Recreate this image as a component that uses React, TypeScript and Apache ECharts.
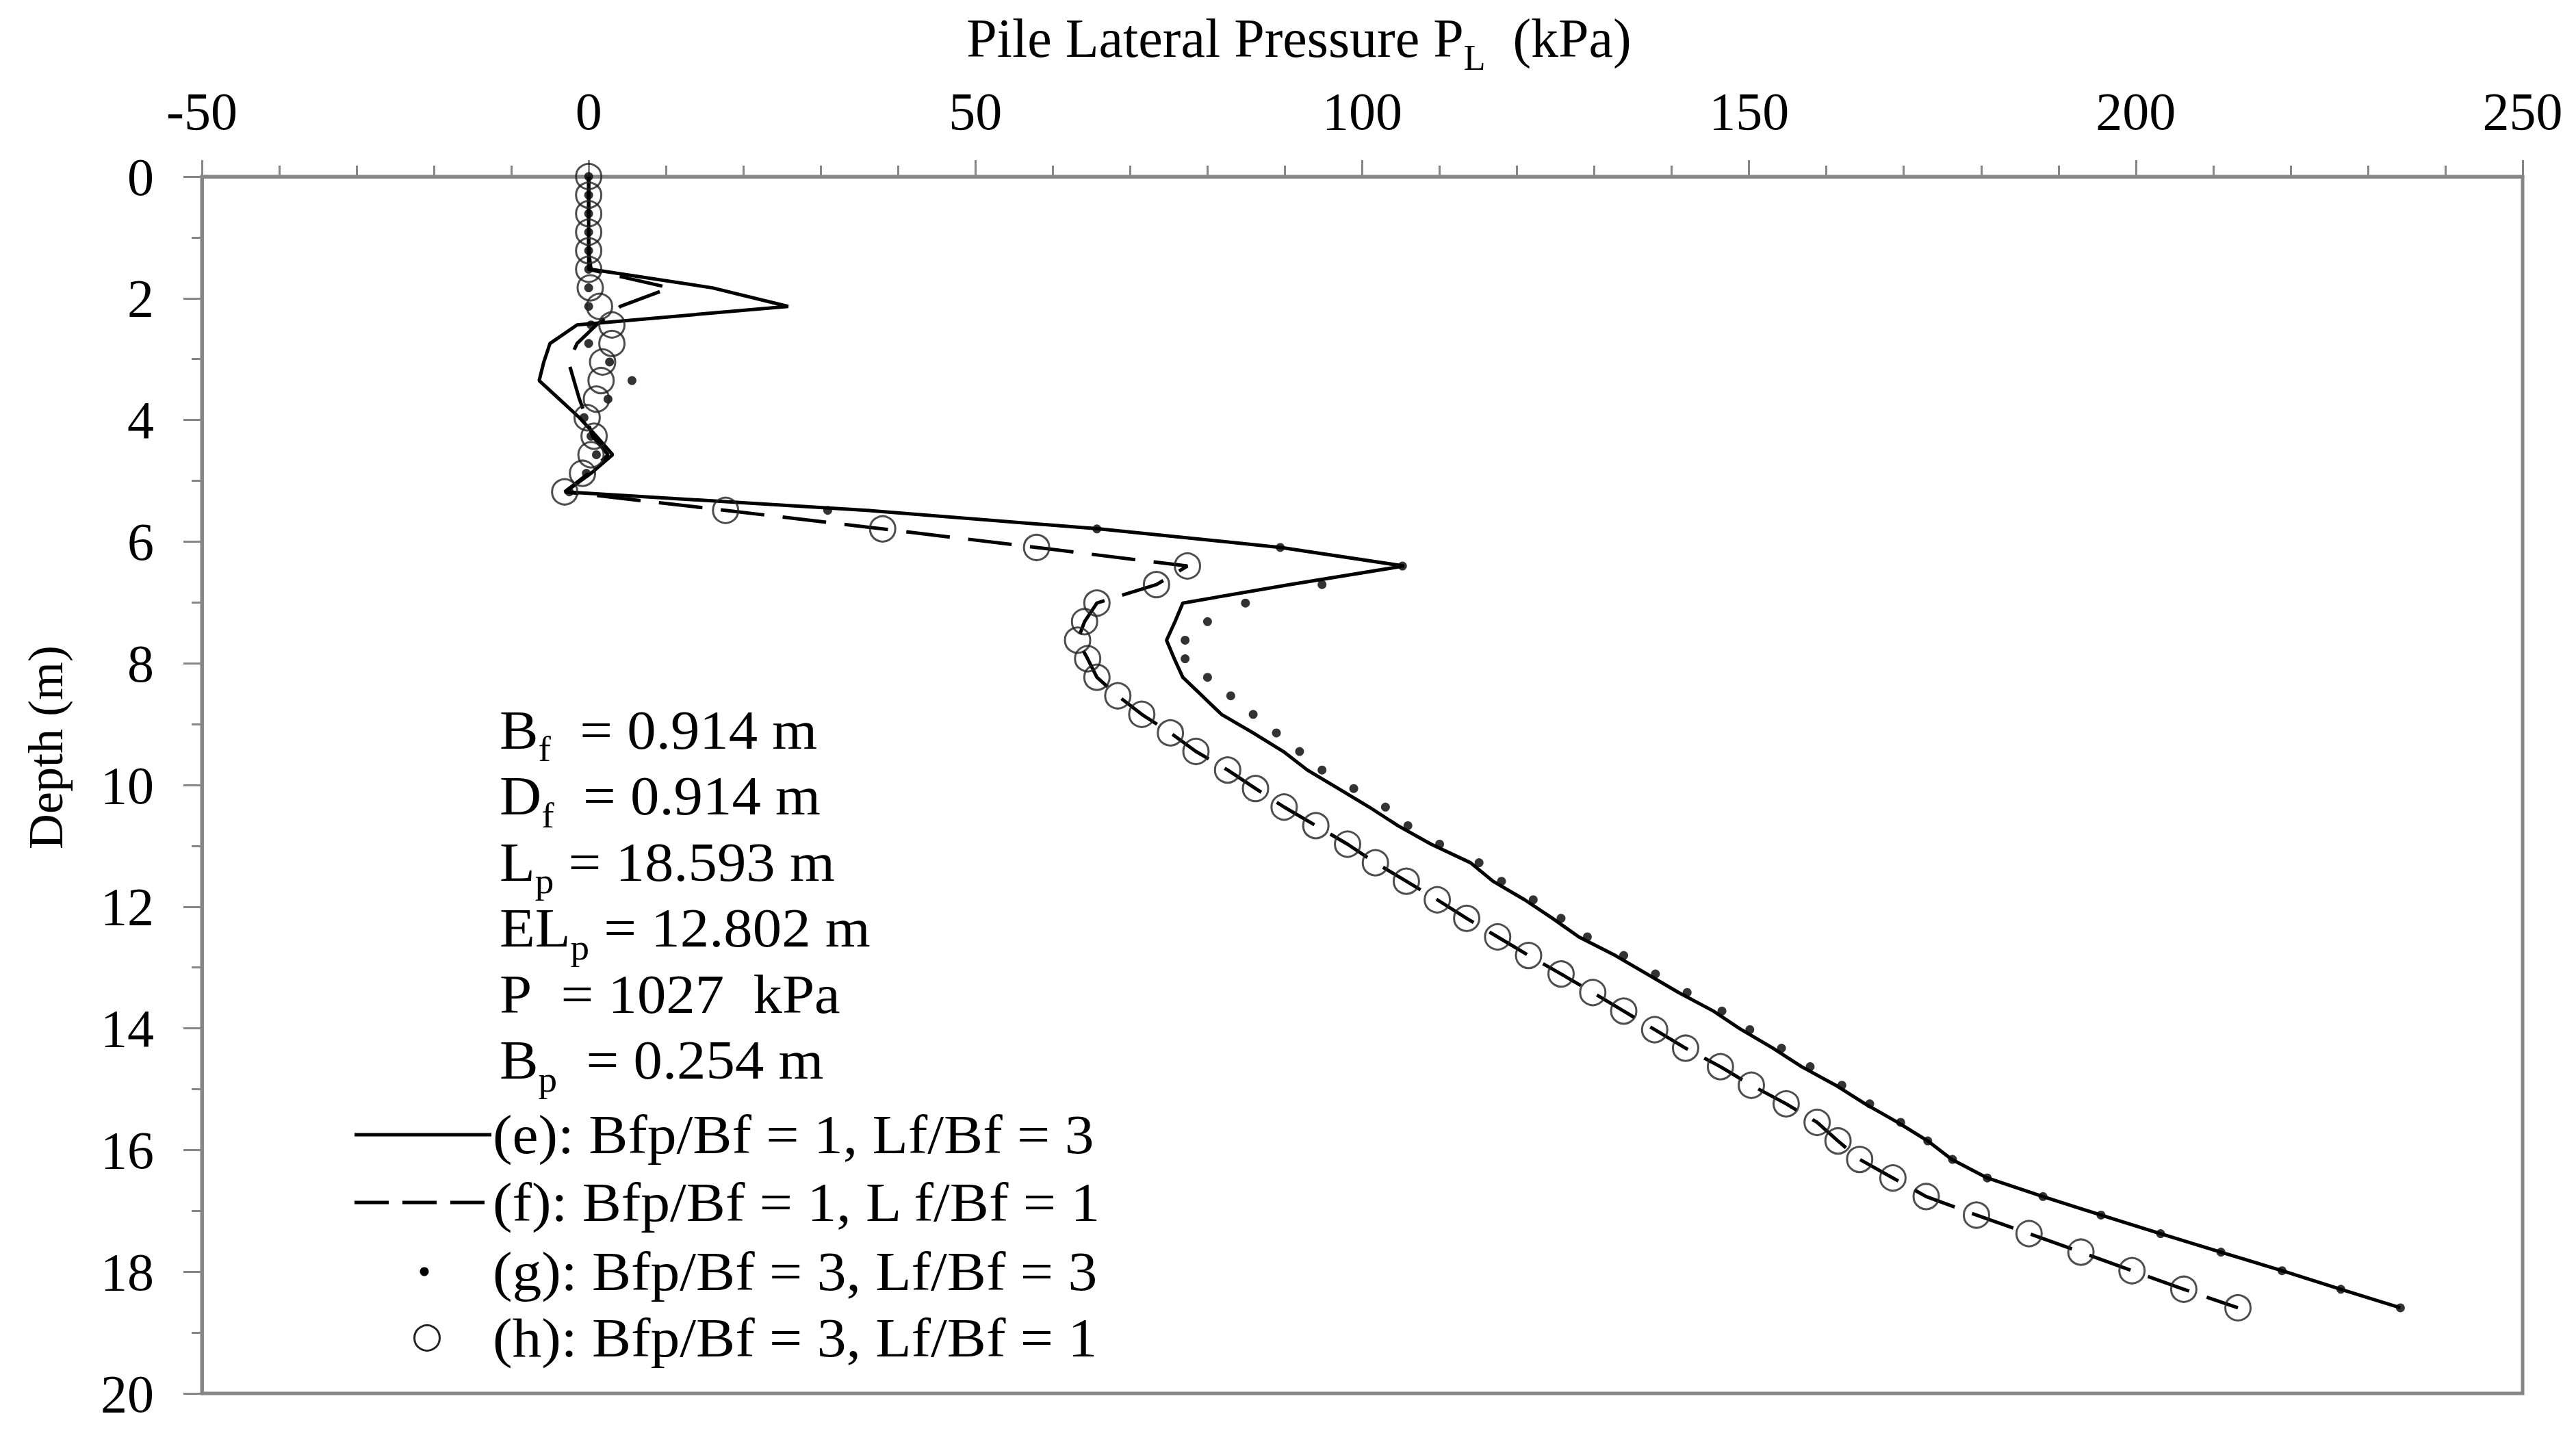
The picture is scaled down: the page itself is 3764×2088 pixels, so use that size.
import React, { useEffect, useRef } from "react";
import * as echarts from "echarts";

// Depth of each computation node along the pile (m), every 0.3048 m (1 ft)
const depths = [
  0, 0.305, 0.61, 0.914, 1.219, 1.524, 1.829, 2.134, 2.438, 2.743,
  3.048, 3.353, 3.658, 3.962, 4.267, 4.572, 4.877, 5.182, 5.486, 5.791,
  6.096, 6.401, 6.706, 7.01, 7.315, 7.62, 7.925, 8.23, 8.534, 8.839,
  9.144, 9.449, 9.754, 10.058, 10.363, 10.668, 10.973, 11.278, 11.582, 11.887,
  12.192, 12.497, 12.802, 13.106, 13.411, 13.716, 14.021, 14.326, 14.63, 14.935,
  15.24, 15.545, 15.85, 16.154, 16.459, 16.764, 17.069, 17.374, 17.678, 17.983,
  18.288, 18.593,
];

// (e): Bfp/Bf = 1, Lf/Bf = 3  (solid line)
const seriesE = [
  0, 0, 0, 0, 0, 0.3, 16, 25.8, -1.5, -5,
  -5.8, -6.4, -3.8, -1.2, 1.0, 3.1, 0.3, -3, 36, 66,
  89.5, 105.4, 90.6, 76.8, 75.8, 74.7, 75.7, 76.8, 79.3, 81.8,
  85.9, 89.8, 92.9, 96.9, 100.9, 104.6, 108.9, 114.0, 116.9, 121.0,
  124.6, 128.0, 132.7, 136.8, 140.9, 145.4, 149.0, 153.1, 156.8, 161.2,
  165.0, 169.2, 173.1, 176.2, 180.8, 188.0, 195.5, 203.2, 211.0, 218.9,
  226.5, 234.2,
];

// (f): Bfp/Bf = 1, Lf/Bf = 1  (dashed line)
const seriesF = [
  0, 0, 0, 0, 0, 0, 10.5, 4.1, 1.0, -1.5,
  -2.6, -1.9, -1.2, -0.3, 0.5, 2.5, 0, -3.1, 17.7, 38.0,
  57.9, 77.4, 73.4, 65.7, 64.1, 63.2, 64.5, 65.7, 68.4, 71.5,
  75.2, 78.5, 82.6, 86.2, 89.9, 94.0, 98.1, 101.7, 105.7, 109.7,
  113.5, 117.5, 121.5, 125.7, 129.8, 133.8, 137.8, 141.8, 146.3, 150.3,
  154.8, 158.8, 161.5, 164.3, 168.6, 172.9, 179.4, 186.2, 192.9, 199.5,
  206.2, 213.2,
];

// (g): Bfp/Bf = 3, Lf/Bf = 3  (small filled dots)
const seriesG = [
  0, 0, 0, 0, 0, 0, 0, 0, 0.3, 0,
  2.7, 5.6, 2.5, -0.6, 0.3, 1.0, -0.3, -2.5, 30.9, 65.7,
  89.4, 105.2, 94.8, 84.9, 80.0, 77.1, 77.1, 80.0, 83.0, 85.9,
  88.9, 91.9, 94.8, 98.9, 103.0, 105.9, 110.0, 115.1, 118.0, 122.1,
  125.7, 129.1, 133.8, 137.9, 142.0, 146.5, 150.1, 154.2, 157.9, 162.0,
  165.6, 169.6, 173.1, 176.3, 180.8, 188.0, 195.5, 203.2, 211.0, 218.9,
  226.5, 234.2,
];

// (h): Bfp/Bf = 3, Lf/Bf = 1  (open circles)
const seriesH = [
  0, 0, 0, 0, 0, 0, 0.2, 1.4, 3.0, 3.0,
  1.8, 1.6, 1.0, -0.2, 0.7, 0.3, -0.8, -3.1, 17.7, 38.0,
  57.9, 77.4, 73.4, 65.7, 64.1, 63.2, 64.5, 65.7, 68.4, 71.5,
  75.2, 78.5, 82.6, 86.2, 89.9, 94.0, 98.1, 101.7, 105.7, 109.7,
  113.5, 117.5, 121.5, 125.7, 129.8, 133.8, 137.8, 141.8, 146.3, 150.3,
  154.8, 158.8, 161.5, 164.3, 168.6, 172.9, 179.4, 186.2, 192.9, 199.5,
  206.2, 213.2,
];

const seriesNames = [
  "(e): Bfp/Bf = 1, Lf/Bf = 3",
  "(f): Bfp/Bf = 1, L f/Bf = 1",
  "(g): Bfp/Bf = 3, Lf/Bf = 3",
  "(h): Bfp/Bf = 3, Lf/Bf = 1",
];

// Parameter block: [main, subscript, rest]
const paramLines: [string, string, string][] = [
  ["B", "f", "\u00a0\u00a0= 0.914 m"],
  ["D", "f", "\u00a0\u00a0= 0.914 m"],
  ["L", "p", "\u00a0= 18.593 m"],
  ["EL", "p", "\u00a0= 12.802 m"],
  ["P", "", "\u00a0\u00a0= 1027\u00a0\u00a0kPa"],
  ["B", "p", "\u00a0\u00a0= 0.254 m"],
];

const xMin = -50;
const xMax = 250;
const xStep = 50;
const yMin = 0;
const yMax = 20;
const yStep = 2;

const FONT = "'Liberation Serif', 'Times New Roman', serif";
const AXIS_GRAY = "#868686";

function pairs(values: number[]) {
  return values.map((v, i) => [v, depths[i]]);
}

export default function App() {
  const ref = useRef<HTMLDivElement>(null);

  useEffect(() => {
    if (!ref.current) return;
    const chart = echarts.init(ref.current, undefined, { renderer: "svg" });

    const rich = {
      m: { fontSize: 80, fontFamily: FONT, fill: "#000" },
      s: { fontSize: 52, fontFamily: FONT, fill: "#000", padding: [56, 0, 0, 0] },
    };

    const paramGraphics = paramLines.map((p, i) => ({
      type: "text",
      x: 730,
      y: 1067 + i * 96.5,
      scaleX: 1.06,
      style: {
        text: `{m|${p[0]}}` + (p[1] ? `{s|${p[1]}}` : "") + `{m|${p[2]}}`,
        rich,
        align: "left",
        verticalAlign: "middle",
      },
    }));

    const legendY = [1658, 1757, 1858, 1955];
    const legendGraphics: any[] = [
      {
        type: "line",
        shape: { x1: 518, y1: legendY[0], x2: 718, y2: legendY[0] },
        style: { stroke: "#000", lineWidth: 5 },
      },
      {
        type: "line",
        shape: { x1: 518, y1: legendY[1], x2: 718, y2: legendY[1] },
        style: { stroke: "#000", lineWidth: 5, lineDash: [50, 20] },
      },
      {
        type: "circle",
        shape: { cx: 620, cy: legendY[2], r: 6.5 },
        style: { fill: "#000" },
      },
      {
        type: "circle",
        shape: { cx: 624, cy: legendY[3], r: 18.5 },
        style: { fill: "none", stroke: "#222", lineWidth: 3 },
      },
      ...seriesNames.map((n, i) => ({
        type: "text",
        x: 720,
        y: legendY[i],
        scaleX: 1.07,
        style: {
          text: n,
          fontSize: 80,
          fontFamily: FONT,
          fill: "#000",
          align: "left",
          verticalAlign: "middle",
        },
      })),
    ];

    chart.setOption({
      animation: false,
      backgroundColor: "#fff",
      grid: {
        left: 295,
        top: 258,
        width: 3391,
        height: 1778,
        show: true,
        borderColor: AXIS_GRAY,
        borderWidth: 5,
        backgroundColor: "transparent",
      },
      xAxis: {
        type: "value",
        position: "top",
        min: xMin,
        max: xMax,
        interval: xStep,
        axisLine: { show: true, onZero: false, lineStyle: { color: AXIS_GRAY, width: 5 } },
        axisTick: { show: true, length: 24, lineStyle: { color: AXIS_GRAY, width: 3 } },
        minorTick: { show: true, splitNumber: 5, length: 16, lineStyle: { color: AXIS_GRAY, width: 3 } },
        splitLine: { show: false },
        axisLabel: { fontSize: 78, fontFamily: FONT, color: "#000", margin: 57 },
      },
      yAxis: {
        type: "value",
        inverse: true,
        min: yMin,
        max: yMax,
        interval: yStep,
        axisLine: { show: true, onZero: false, lineStyle: { color: AXIS_GRAY, width: 5 } },
        axisTick: { show: true, length: 27, lineStyle: { color: AXIS_GRAY, width: 3 } },
        minorTick: { show: true, splitNumber: 2, length: 15, lineStyle: { color: AXIS_GRAY, width: 3 } },
        splitLine: { show: false },
        axisLabel: { fontSize: 78, fontFamily: FONT, color: "#000", margin: 70 },
      },
      series: [
        {
          name: seriesNames[0],
          type: "line",
          data: pairs(seriesE),
          symbol: "none",
          lineStyle: { color: "#000", width: 5 },
          z: 3,
        },
        {
          name: seriesNames[1],
          type: "line",
          data: pairs(seriesF),
          symbol: "none",
          lineStyle: { color: "#000", width: 5, type: [64, 27] },
          z: 3,
        },
        {
          name: seriesNames[2],
          type: "scatter",
          data: pairs(seriesG),
          symbol: "circle",
          symbolSize: 13,
          itemStyle: { color: "#000" },
          z: 4,
        },
        {
          name: seriesNames[3],
          type: "scatter",
          data: pairs(seriesH),
          symbol: "circle",
          symbolSize: 37,
          itemStyle: { color: "rgba(0,0,0,0)", borderColor: "#222", borderWidth: 3 },
          z: 5,
        },
      ],
      graphic: [
        {
          type: "text",
          x: 1898,
          y: 56,
          style: {
            text: "{m|Pile Lateral Pressure P}{s|L}{m|\u00a0\u00a0(kPa)}",
            rich,
            align: "center",
            verticalAlign: "middle",
          },
        },
        {
          type: "text",
          x: 67,
          y: 1092,
          rotation: Math.PI / 2,
          style: {
            text: "Depth (m)",
            fontSize: 72,
            fontFamily: FONT,
            fill: "#000",
            align: "center",
            verticalAlign: "middle",
          },
        },
        ...paramGraphics,
        ...legendGraphics,
      ],
    });

    return () => chart.dispose();
  }, []);

  return (
    <div
      ref={ref}
      style={{ position: "fixed", left: 0, top: 0, width: 3764, height: 2088, background: "#fff" }}
    />
  );
}
